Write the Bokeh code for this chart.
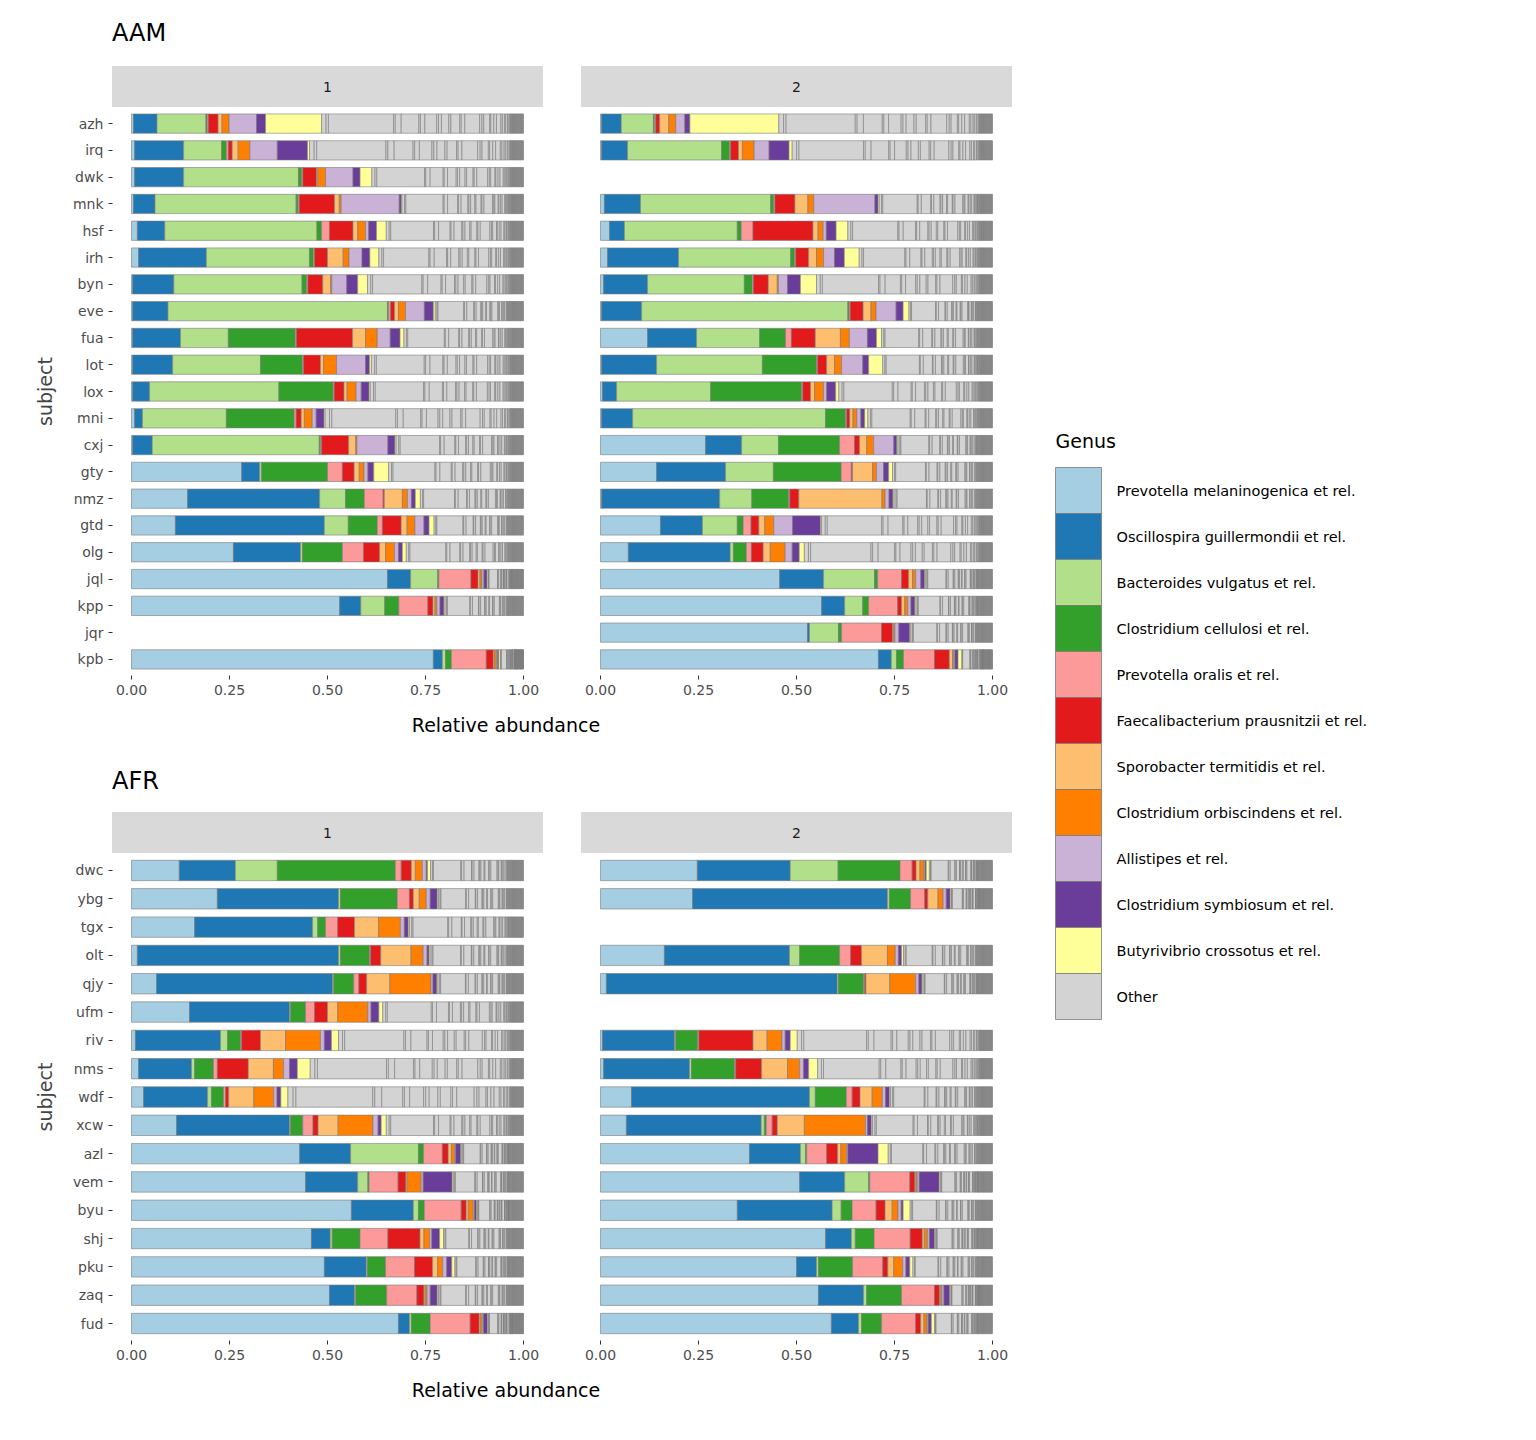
from bokeh.plotting import figure
from bokeh.models import Range1d, FixedTicker, NumeralTickFormatter, Div, ColumnDataSource
from bokeh.layouts import row, column
from bokeh.core.properties import value
from bokeh.embed import file_html
from bokeh.resources import INLINE

FONT = "DejaVu Sans"
GENUS = ["Prevotella melaninogenica et rel.", "Oscillospira guillermondii et rel.",
         "Bacteroides vulgatus et rel.", "Clostridium cellulosi et rel.",
         "Prevotella oralis et rel.", "Faecalibacterium prausnitzii et rel.",
         "Sporobacter termitidis et rel.", "Clostridium orbiscindens et rel.",
         "Allistipes et rel.", "Clostridium symbiosum et rel.",
         "Butyrivibrio crossotus et rel.", "Other"]
COLORS = ["#A6CEE3", "#1F78B4", "#B2DF8A", "#33A02C", "#FB9A99", "#E31A1C",
          "#FDBF6F", "#FF7F00", "#CAB2D6", "#6A3D9A", "#FFFF99", "#D3D3D3"]

# weights of the many minor taxa that make up "Other"
OTHER_W = [1.5, 0.8, 22, 0.6, 2, 6, 0.5, 1.5, 4, 0.6, 1, 2.5, 0.7, 3, 0.5, 1.2,
           5, 0.8, 0.6, 2, 0.4, 1, 0.9, 1.5, 0.5, 0.7, 0.4, 0.6, 0.3, 0.5]
TAIL_FRAC = 0.035
TAIL_N = 26

AAM_SUBJ = ["azh", "irq", "dwk", "mnk", "hsf", "irh", "byn", "eve", "fua", "lot", "lox",
            "mni", "cxj", "gty", "nmz", "gtd", "olg", "jql", "kpp", "jqr", "kpb"]
AAM_T1 = {
    "azh": [.005, .06, .125, .003, .003, .025, .01, .018, .07, .023, .143],
    "irq": [.008, .125, .097, .012, .005, .01, .015, .03, .07, .077, .005],
    "dwk": [.008, .125, .293, .008, .003, .035, .003, .02, .07, .018, .03],
    "mnk": [.005, .055, .36, .005, .003, .09, .012, .005, .148, .005, .002],
    "hsf": [.015, .07, .388, .012, .02, .06, .012, .02, .008, .02, .025],
    "irh": [.018, .173, .263, .01, .003, .033, .04, .015, .033, .02, .023],
    "byn": [.003, .105, .327, .012, .003, .038, .02, .003, .038, .028, .025],
    "eve": [.003, .09, .56, .003, .005, .01, .01, .018, .048, .023, .005],
    "fua": [.003, .122, .122, .171, .003, .143, .033, .03, .033, .025, .01],
    "lot": [.003, .102, .224, .107, .003, .043, .008, .033, .074, .01, .005],
    "lox": [.003, .043, .33, .138, .003, .025, .008, .023, .013, .02, .003],
    "mni": [.008, .02, .214, .173, .005, .013, .008, .02, .01, .02, .003],
    "cxj": [.003, .05, .426, .003, .003, .069, .018, .003, .079, .018, .003],
    "gty": [.281, .046, .005, .168, .038, .03, .013, .012, .01, .015, .038],
    "nmz": [.143, .337, .066, .048, .048, .003, .046, .013, .01, .01, .013],
    "gtd": [.112, .38, .061, .074, .013, .048, .015, .02, .023, .013, .013],
    "olg": [.26, .171, .005, .102, .054, .041, .015, .023, .01, .01, .01],
    "jql": [.653, .059, .069, .003, .082, .018, .005, .005, .005, .008, .003],
    "kpp": [.531, .054, .061, .036, .074, .013, .005, .005, .008, .01, .003],
    "jqr": None,
    "kpb": [.77, .023, .008, .015, .089, .018, .003, .005, .003, .003, .005],
}
AAM_T2 = {
    "azh": [.003, .05, .082, .003, .003, .01, .023, .018, .023, .013, .227],
    "irq": [.003, .066, .24, .02, .003, .02, .01, .03, .038, .051, .008],
    "dwk": None,
    "mnk": [.01, .092, .332, .008, .003, .051, .033, .015, .156, .008, .003],
    "hsf": [.023, .038, .288, .01, .03, .153, .013, .013, .008, .025, .03],
    "irh": [.018, .181, .286, .01, .003, .033, .02, .018, .028, .025, .038],
    "byn": [.008, .112, .247, .02, .003, .038, .023, .003, .023, .033, .041],
    "eve": [.003, .102, .526, .003, .003, .033, .02, .013, .051, .018, .015],
    "fua": [.12, .125, .161, .066, .015, .061, .064, .023, .046, .023, .013],
    "lot": [.003, .14, .27, .138, .003, .023, .02, .018, .054, .015, .036],
    "lox": [.005, .036, .24, .232, .003, .02, .01, .023, .008, .023, .008],
    "mni": [.003, .079, .492, .051, .003, .008, .008, .01, .01, .01, .008],
    "cxj": [.268, .092, .094, .156, .038, .013, .018, .018, .051, .008, .003],
    "gty": [.143, .176, .122, .173, .026, .003, .051, .01, .018, .013, .01],
    "nmz": [.003, .301, .082, .094, .003, .023, .212, .008, .01, .01, .003],
    "gtd": [.153, .107, .089, .015, .02, .02, .015, .023, .048, .071, .003],
    "olg": [.071, .26, .008, .033, .013, .03, .018, .038, .018, .018, .013],
    "jql": [.457, .112, .13, .008, .061, .018, .01, .008, .013, .01, .003],
    "kpp": [.564, .059, .046, .015, .074, .01, .008, .008, .008, .01, .003],
    "jqr": [.528, .005, .074, .008, .102, .028, .003, .003, .01, .028, .003],
    "kpb": [.709, .033, .013, .018, .079, .038, .008, .003, .003, .008, .01],
}

AFR_SUBJ = ["dwc", "ybg", "tgx", "olt", "qjy", "ufm", "riv", "nms", "wdf", "xcw", "azl",
            "vem", "byu", "shj", "pku", "zaq", "fud"]
AFR_T1 = {
    "dwc": [.122, .143, .107, .301, .015, .026, .01, .018, .01, .003, .008],
    "ybg": [.219, .309, .005, .145, .031, .01, .015, .018, .01, .018, .003],
    "tgx": [.161, .301, .013, .02, .031, .043, .061, .056, .01, .01, .003],
    "olt": [.015, .513, .005, .074, .003, .026, .077, .031, .01, .005, .003],
    "qjy": [.064, .449, .003, .051, .013, .02, .059, .105, .005, .01, .003],
    "ufm": [.148, .255, .003, .038, .023, .033, .026, .077, .008, .02, .01],
    "riv": [.01, .217, .018, .033, .003, .048, .064, .089, .01, .018, .018],
    "nms": [.018, .135, .008, .048, .01, .079, .064, .026, .015, .02, .033],
    "wdf": [.031, .163, .01, .031, .005, .008, .064, .051, .008, .01, .018],
    "xcw": [.115, .288, .003, .031, .026, .013, .051, .089, .013, .008, .013],
    "azl": [.429, .13, .173, .013, .048, .015, .008, .008, .003, .013, .003],
    "vem": [.444, .133, .026, .003, .074, .02, .003, .036, .005, .074, .003],
    "byu": [.561, .158, .013, .015, .094, .013, .005, .013, .003, .005, .003],
    "shj": [.459, .048, .005, .071, .071, .082, .01, .015, .005, .02, .01],
    "pku": [.492, .107, .003, .046, .074, .046, .013, .013, .01, .013, .008],
    "zaq": [.505, .064, .003, .079, .077, .018, .003, .005, .008, .018, .003],
    "fud": [.681, .028, .005, .048, .102, .023, .003, .005, .003, .01, .003],
}
AFR_T2 = {
    "dwc": [.247, .237, .122, .158, .031, .01, .01, .01, .003, .003, .008],
    "ybg": [.235, .497, .005, .054, .036, .008, .026, .013, .008, .01, .003],
    "tgx": None,
    "olt": [.163, .319, .026, .102, .028, .028, .066, .02, .008, .008, .005],
    "qjy": [.015, .589, .003, .064, .003, .003, .061, .066, .008, .008, .003],
    "ufm": None,
    "riv": [.005, .184, .003, .056, .003, .138, .036, .038, .008, .013, .018],
    "nms": [.008, .219, .005, .11, .003, .066, .066, .031, .01, .013, .023],
    "wdf": [.079, .454, .015, .079, .015, .02, .031, .026, .008, .01, .003],
    "xcw": [.066, .344, .008, .005, .015, .013, .069, .156, .005, .01, .003],
    "azl": [.38, .13, .013, .003, .051, .028, .008, .015, .003, .077, .026],
    "vem": [.508, .115, .061, .003, .102, .013, .003, .003, .005, .051, .003],
    "byu": [.349, .242, .023, .028, .061, .023, .018, .015, .008, .005, .018],
    "shj": [.574, .066, .01, .048, .092, .031, .005, .008, .005, .013, .003],
    "pku": [.5, .051, .005, .087, .077, .013, .015, .023, .008, .01, .008],
    "zaq": [.556, .115, .008, .089, .084, .013, .003, .003, .005, .015, .003],
    "fud": [.589, .069, .008, .051, .087, .013, .008, .008, .003, .008, .008],
}

PANEL_W = 431
LEFT_W = 112
GAP = 38
TOTAL_W = LEFT_W + PANEL_W + GAP + PANEL_W


def segments(subjects, data):
    ys, lefts, rights, cols = [], [], [], []
    for i, s in enumerate(subjects):
        vals = data[s]
        if vals is None:
            continue
        x = 0.0
        for v, c in zip(vals, COLORS):
            ys.append(i); lefts.append(x); rights.append(x + v); cols.append(c)
            x += v
        rem = 1.0 - x
        tail = min(TAIL_FRAC, rem * 0.3)
        body = rem - tail
        tw = sum(OTHER_W)
        for w in OTHER_W:
            d = body * w / tw
            ys.append(i); lefts.append(x); rights.append(x + d); cols.append(COLORS[-1])
            x += d
        for _ in range(TAIL_N):
            d = tail / TAIL_N
            ys.append(i); lefts.append(x); rights.append(x + d); cols.append(COLORS[-1])
            x += d
    return ColumnDataSource(dict(y=ys, left=lefts, right=rights, color=cols))


def facet(subjects, data, panel_h, first):
    n = len(subjects)
    w = (LEFT_W if first else GAP) + PANEL_W
    p = figure(width=w, height=panel_h + 35, output_backend="svg", toolbar_location=None,
               x_range=Range1d(-0.0485, 1.051), y_range=Range1d(n - 1 + 0.6, -0.6),
               min_border_left=(LEFT_W if first else GAP), min_border_right=0,
               min_border_top=0, min_border_bottom=35)
    p.outline_line_color = None
    p.xgrid.visible = False
    p.ygrid.visible = False
    p.hbar(y="y", left="left", right="right", height=0.72, fill_color="color",
           line_color="#7a7a7a", line_width=0.6, source=segments(subjects, data))
    xa = p.xaxis[0]
    xa.ticker = FixedTicker(ticks=[0, 0.25, 0.5, 0.75, 1.0])
    xa.formatter = NumeralTickFormatter(format="0.00")
    xa.minor_tick_line_color = None
    xa.axis_line_color = None
    xa.major_tick_line_color = "#333333"
    xa.major_tick_out = 4
    xa.major_tick_in = 0
    xa.major_label_text_font = FONT
    xa.major_label_text_font_size = "14px"
    xa.major_label_text_color = "#4D4D4D"
    ya = p.yaxis[0]
    if first:
        ya.ticker = FixedTicker(ticks=list(range(n)))
        ya.major_label_overrides = {i: s for i, s in enumerate(subjects)}
        ya.minor_tick_line_color = None
        ya.axis_line_color = None
        ya.major_tick_line_color = "#333333"
        ya.major_tick_out = 4
        ya.major_tick_in = 0
        ya.major_label_text_font = FONT
        ya.major_label_text_font_size = "14px"
        ya.major_label_text_color = "#4D4D4D"
        ya.axis_label = "subject"
        ya.axis_label_text_font = FONT
        ya.axis_label_text_font_style = "normal"
        ya.axis_label_text_font_size = "19px"
        ya.axis_label_standoff = 14
    else:
        ya.visible = False
    return p


def title_div(txt, h, top):
    return Div(text=f'<div style="font-family:DejaVu Sans;font-size:24px;padding-left:{LEFT_W}px;'
                    f'padding-top:{top}px;color:#000">{txt}</div>', width=TOTAL_W, height=h, margin=0)


def strip_div():
    cell = ('width:{w}px;height:41px;background:#D9D9D9;display:flex;align-items:center;'
            'justify-content:center;font-family:DejaVu Sans;font-size:14px;color:#1A1A1A')
    html = (f'<div style="display:flex;height:41px"><div style="width:{LEFT_W}px"></div>'
            f'<div style="{cell.format(w=PANEL_W)}">1</div><div style="width:{GAP}px"></div>'
            f'<div style="{cell.format(w=PANEL_W)}">2</div></div>')
    return Div(text=html, width=TOTAL_W, height=41, margin=0)


def xtitle_div():
    return Div(text=f'<div style="padding-left:{LEFT_W}px;width:{TOTAL_W - LEFT_W}px;text-align:center;'
                    f'font-family:DejaVu Sans;font-size:19px;color:#000;padding-top:2px">Relative abundance</div>',
               width=TOTAL_W, height=32, margin=0)


left = column(
    title_div("AAM", 66, 16), strip_div(),
    row(facet(AAM_SUBJ, AAM_T1, 568, True), facet(AAM_SUBJ, AAM_T2, 568, False)),
    xtitle_div(),
    title_div("AFR", 70, 22), strip_div(),
    row(facet(AFR_SUBJ, AFR_T1, 487, True), facet(AFR_SUBJ, AFR_T2, 487, False)),
    xtitle_div(),
)

H = 66 + 41 + 603 + 32 + 70 + 41 + 522 + 32
LW = 500
lg = figure(width=LW, height=H, output_backend="svg", toolbar_location=None,
            x_range=Range1d(0, LW), y_range=Range1d(H, 0),
            min_border_left=0, min_border_right=0, min_border_top=0, min_border_bottom=0)
lg.axis.visible = False
lg.grid.visible = False
lg.outline_line_color = None
KEY = 46
KX = 43
KY = 467
idx = list(range(len(GENUS)))
lg.quad(left=[KX] * len(idx), right=[KX + KEY] * len(idx),
        top=[KY + KEY * i for i in idx], bottom=[KY + KEY * (i + 1) for i in idx],
        fill_color=COLORS, line_color="#7a7a7a", line_width=0.8)
lg.text(x=[KX + 61] * len(idx), y=[KY + KEY * i + KEY / 2 for i in idx], text=GENUS,
        text_font=value(FONT), text_font_size="14.5px", text_baseline="middle", text_color="#000")
lg.text(x=[KX], y=[KY - 27], text=["Genus"], text_font=value(FONT), text_font_size="19px",
        text_baseline="middle", text_color="#000")

root = row(left, lg)
open("out.html", "w").write(file_html(root, INLINE))
